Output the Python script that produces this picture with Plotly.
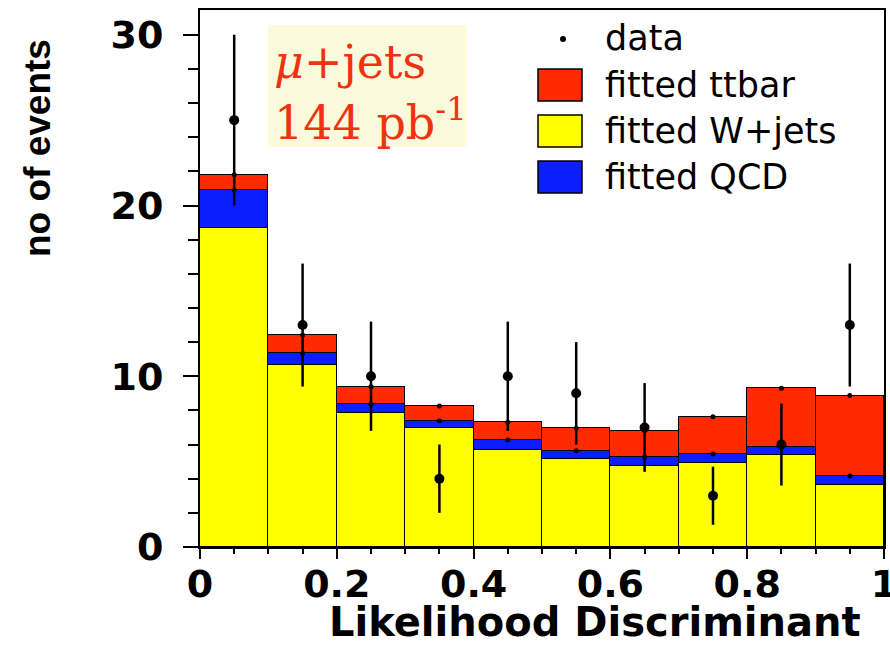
import plotly.graph_objects as go

# ---- data ----
bin_centers = [0.05, 0.15, 0.25, 0.35, 0.45, 0.55, 0.65, 0.75, 0.85, 0.95]
bin_width = 0.1
wjets = [18.7, 10.65, 7.87, 6.97, 5.68, 5.13, 4.74, 4.9, 5.39, 3.63]
qcd = [2.2, 0.7, 0.51, 0.43, 0.59, 0.51, 0.55, 0.55, 0.49, 0.53]
ttbar = [0.9, 1.07, 1.01, 0.86, 1.03, 1.31, 1.52, 2.18, 3.42, 4.71]
data = [25, 13, 10, 4, 10, 9, 7, 3, 6, 13]
data_err = [5.0, 3.6, 3.2, 2.0, 3.2, 3.0, 2.6, 1.7, 2.4, 3.6]

x_ticks = [0, 0.2, 0.4, 0.6, 0.8, 1]
x_tick_text = ["0", "0.2", "0.4", "0.6", "0.8", "1"]
y_ticks = [0, 10, 20, 30]

RED = "#ff2a00"
YEL = "#ffff00"
BLUE = "#0a1eff"

fig = go.Figure()
line = dict(color="black", width=1.5)
fig.add_trace(go.Bar(x=bin_centers, y=wjets, width=bin_width, marker=dict(color=YEL, line=line),
                     name="fitted W+jets", showlegend=False))
fig.add_trace(go.Bar(x=bin_centers, y=qcd, width=bin_width, marker=dict(color=BLUE, line=line),
                     name="fitted QCD", showlegend=False))
fig.add_trace(go.Bar(x=bin_centers, y=ttbar, width=bin_width, marker=dict(color=RED, line=line),
                     name="fitted ttbar", showlegend=False))

# small markers at the stack boundaries
tops = [w + q + t for w, q, t in zip(wjets, qcd, ttbar)]
mids = [w + q for w, q in zip(wjets, qcd)]
fig.add_trace(go.Scatter(x=bin_centers + bin_centers, y=tops + mids, mode="markers",
                         marker=dict(color="black", size=5), showlegend=False, hoverinfo="skip"))

fig.add_trace(go.Scatter(x=bin_centers, y=data, mode="markers", name="data",
                         marker=dict(color="black", size=10),
                         error_y=dict(type="data", array=data_err, color="black", thickness=2.5, width=0),
                         showlegend=False))

X0, X1, Y0, Y1 = 200, 884, 10, 547
def px(x):
    return (x - X0) / (X1 - X0)
def py(y):
    return (Y1 - y) / (Y1 - Y0)

shapes = []
annotations = []

# text box
shapes.append(dict(type="rect", xref="paper", yref="paper", x0=px(268), x1=px(467), y0=py(147), y1=py(25),
                   fillcolor="#fcfadc", line=dict(width=0), layer="below"))
annotations.append(dict(xref="paper", yref="paper", x=px(272), y=py(62), xanchor="left", yanchor="middle",
                        text="<i>μ</i>+jets", showarrow=False,
                        font=dict(family="DejaVu Serif", size=46, color="#ee3311")))
annotations.append(dict(xref="paper", yref="paper", x=px(272), y=py(120), xanchor="left", yanchor="middle",
                        text="144 pb<sup>-1</sup>", showarrow=False,
                        font=dict(family="DejaVu Serif", size=46, color="#ee3311")))

# legend (manual)
leg_font = dict(family="DejaVu Sans", size=35, color="black")
shapes.append(dict(type="circle", xref="paper", yref="paper", x0=px(560), x1=px(566), y0=py(42), y1=py(36),
                   fillcolor="black", line=dict(width=0)))
for label, color, cy in [("fitted ttbar", RED, 85), ("fitted W+jets", YEL, 131), ("fitted QCD", BLUE, 177)]:
    shapes.append(dict(type="rect", xref="paper", yref="paper", x0=px(538), x1=px(582),
                       y0=py(cy + 16), y1=py(cy - 16), fillcolor=color, line=dict(color="black", width=1.5)))
for label, cy in [("data", 38), ("fitted ttbar", 85), ("fitted W+jets", 131), ("fitted QCD", 177)]:
    annotations.append(dict(xref="paper", yref="paper", x=px(603), y=py(cy), xanchor="left", yanchor="middle",
                            text=label, showarrow=False, font=leg_font))

# axis titles
annotations.append(dict(xref="paper", yref="paper", x=px(595), y=py(622), xanchor="center", yanchor="middle",
                        text="<b>Likelihood Discriminant</b>", showarrow=False,
                        font=dict(family="DejaVu Sans", size=40, color="black")))
annotations.append(dict(xref="paper", yref="paper", x=px(38), y=py(148), xanchor="center", yanchor="middle",
                        text="<b>no of events</b>", textangle=-90, showarrow=False,
                        font=dict(family="Liberation Sans", size=37, color="black")))

fig.update_layout(
    width=890, height=655,
    margin=dict(l=X0, r=890 - X1, t=Y0, b=655 - Y1, autoexpand=False),
    paper_bgcolor="white", plot_bgcolor="white",
    barmode="stack", bargap=0,
    shapes=shapes, annotations=annotations,
    showlegend=False,
)
fig.update_xaxes(range=[0, 1], tickvals=x_ticks, ticktext=x_tick_text, ticks="outside", ticklen=10,
                 tickwidth=2, tickcolor="black", showgrid=False, zeroline=False,
                 showline=True, linecolor="black", linewidth=2, mirror=True, automargin=False,
                 minor=dict(dtick=0.05, ticks="outside", ticklen=5, tickwidth=1.5, tickcolor="black", showgrid=False),
                 ticklabelstandoff=-8, ticklabeloverflow="allow",
                 tickfont=dict(family="DejaVu Sans", size=38, color="black", weight="bold"))
fig.update_yaxes(range=[0, 31.45], tickvals=y_ticks, ticks="outside", ticklen=15,
                 tickwidth=2, tickcolor="black", showgrid=False, zeroline=False,
                 showline=True, linecolor="black", linewidth=2, mirror=True, automargin=False,
                 minor=dict(dtick=2, ticks="outside", ticklen=10, tickwidth=1.5, tickcolor="black", showgrid=False),
                 ticklabelstandoff=12,
                 tickfont=dict(family="DejaVu Sans", size=38, color="black", weight="bold"))

fig.write_html("out.html")
